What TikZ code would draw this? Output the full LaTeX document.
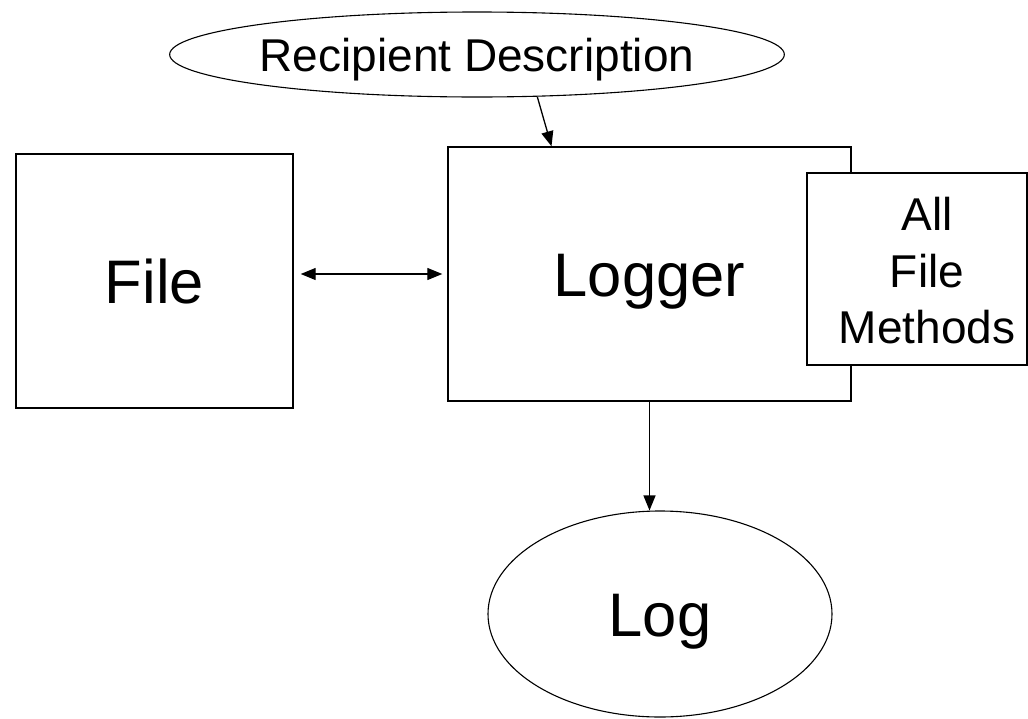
\documentclass[tikz,border=0pt]{standalone}
\usepackage{fontspec}
\setmainfont{Liberation Sans}
\usetikzlibrary{shapes.geometric,arrows.meta,calc}

\tikzset{
  box/.style={draw=black, line width=1.4pt, fill=white, rectangle, inner sep=0pt},
  oval/.style={draw=black, line width=1.1pt, fill=white, ellipse, inner sep=0pt},
  % text boxes sized to the capital height so labels sit centred
  bigtext/.style={font=\fontsize{61.5}{70}\selectfont, text height=44pt, text depth=0pt},
  midtext/.style={font=\fontsize{46}{52}\selectfont, text height=33pt, text depth=0pt},
  listtext/.style={font=\fontsize{46}{56.5}\selectfont, align=center, inner sep=0pt},
  link/.style={draw=black, line width=1.3pt, -{Triangle[length=15pt,width=12pt]}},
  dbllink/.style={draw=black, line width=1.3pt, {Triangle[length=15pt,width=12pt]}-{Triangle[length=15pt,width=12pt]}},
}

\begin{document}
\begin{tikzpicture}[x=1pt, y=-1pt]
  \useasboundingbox (0,0) rectangle (1028,718);

  % description of the recipient, feeding the logger
  \node[oval, midtext, minimum width=524pt, minimum height=85pt] (recip) at (477,54.5) {Recipient Description};

  % file and logger boxes
  \node[box, bigtext, minimum width=277pt, minimum height=254pt] (file) at (154.5,281) {File};
  \node[box, bigtext, minimum width=403pt, minimum height=254pt] (logger) at (649.5,274) {Logger};

  % method box overlapping the logger's right side
  \node[box, minimum width=220pt, minimum height=192pt] (methods) at (917,269) {};
  \node[listtext] (methodstext) at ($(methods.center)+(10,2)$) {All\\File\\Methods};

  % log output
  \node[oval, bigtext, minimum width=344pt, minimum height=206pt] (log) at (660,614) {Log};

  % connectors
  \draw[link] (recip.-35) -- ([xshift=-98pt]logger.north);
  \draw[dbllink] ($(file.east |- logger.west)+(7pt,0)$) -- ($(logger.west)+(-5pt,0)$);
  \draw[link] (logger.south) -- (logger.south |- log.north);
\end{tikzpicture}
\end{document}
